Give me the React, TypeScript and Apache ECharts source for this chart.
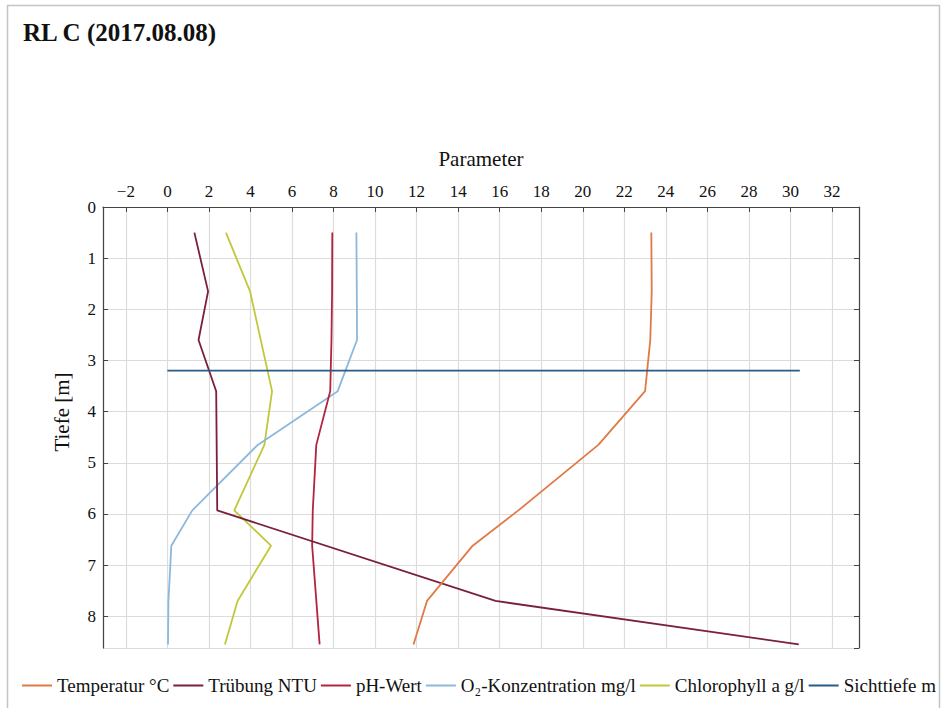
import React, { useEffect, useRef } from "react";
import * as echarts from "echarts";

const titleText = "RL C (2017.08.08)";
const seriesNames = [
  "Temperatur °C",
  "Trübung NTU",
  "pH-Wert",
  "O₂-Konzentration mg/l",
  "Chlorophyll a g/l",
  "Sichttiefe m",
];
const seriesColors = ["#e07a45", "#7a1f3d", "#b3243f", "#8db8dc", "#c2c73a", "#2a5b84"];

const depths = [0.5, 1.65, 2.6, 3.6, 4.65, 5.93, 6.62, 7.7, 8.55];
const temperatur = [23.3, 23.32, 23.25, 23.0, 20.75, 16.9, 14.7, 12.5, 11.85];
const truebung = [1.3, 1.96, 1.5, 2.35, null, 2.4, null, 15.8, 30.4];
const phWert = [7.94, 7.93, 7.9, 7.84, 7.17, 7.0, 6.97, null, 7.33];
const sauerstoff = [9.1, 9.12, 9.13, 8.2, 4.35, 1.2, 0.19, 0.05, 0.03];
const chlorophyll = [2.82, 3.98, null, 5.04, 4.67, 3.22, 4.99, 3.38, 2.77];
const sichttiefe = 3.2;
const sichtRange = [0, 30.45];

const xMin = -3.1;
const xMax = 33.3;
const yMax = 8.62;

function toPairs(vals: (number | null)[]) {
  const out: number[][] = [];
  depths.forEach((d, i) => {
    const v = vals[i];
    if (v !== null && v !== undefined) out.push([v, d]);
  });
  return out;
}

const FONT = "Liberation Serif";

export default function App() {
  const ref = useRef<HTMLDivElement>(null);
  useEffect(() => {
    if (!ref.current) return;
    const chart = echarts.init(ref.current, undefined, { renderer: "svg" });
    const allData = [
      toPairs(temperatur),
      toPairs(truebung),
      toPairs(phWert),
      toPairs(sauerstoff),
      toPairs(chlorophyll),
      sichtRange.map((x) => [x, sichttiefe]),
    ];
    chart.setOption({
      animation: false,
      backgroundColor: "#ffffff",
      title: {
        text: titleText,
        left: 18,
        top: 15,
        textStyle: { fontFamily: FONT, fontWeight: "bold", fontSize: 25, color: "#111" },
      },
      graphic: [
        {
          type: "rect",
          shape: { x: 7.5, y: 5.5, width: 932, height: 720 },
          style: { fill: "none", stroke: "#c4c4c4", lineWidth: 1.5 },
          silent: true,
        },
        {
          type: "text",
          x: 62,
          y: 412,
          rotation: Math.PI / 2,
          style: {
            text: "Tiefe [m]",
            fontFamily: FONT,
            fontSize: 21,
            fill: "#111",
            align: "center",
            verticalAlign: "middle",
          },
        },
      ],
      legend: {
        left: 22,
        top: 676,
        width: 930,
        padding: 0,
        itemWidth: 30,
        itemHeight: 2,
        itemGap: 4,
        icon: "rect",
        textStyle: { fontFamily: FONT, fontSize: 19, color: "#111", padding: [0, 0, 0, 0] },
        data: seriesNames,
      },
      grid: { left: 103, right: 85, top: 207, bottom: 60 },
      xAxis: {
        type: "value",
        position: "top",
        min: xMin,
        max: xMax,
        splitNumber: 18,
        name: "Parameter",
        nameLocation: "middle",
        nameGap: 38,
        nameTextStyle: { fontFamily: FONT, fontSize: 21, color: "#111" },
        axisLine: { show: true, onZero: false, lineStyle: { color: "#444", width: 1.2 } },
        axisTick: { show: true, inside: true, length: 5, lineStyle: { color: "#444" } },
        axisLabel: {
          fontFamily: FONT,
          fontSize: 17,
          color: "#111",
          margin: 7,
          showMinLabel: false,
          showMaxLabel: false,
          formatter: (v: number) => (v < 0 ? "\u2212" + Math.abs(v) : String(v)),
        },
        splitLine: { show: true, lineStyle: { color: "#dcdcdc", width: 1.2 } },
      },
      yAxis: [
        {
          type: "value",
          inverse: true,
          min: 0,
          max: yMax,
          interval: 1,
          axisLine: { show: true, onZero: false, lineStyle: { color: "#444", width: 1.2 } },
          axisTick: { show: true, inside: true, length: 5, lineStyle: { color: "#444" } },
          axisLabel: {
            fontFamily: FONT,
            fontSize: 17,
            color: "#111",
            margin: 7,
            showMaxLabel: false,
          },
          splitLine: { show: true, lineStyle: { color: "#dcdcdc", width: 1.2 } },
        },
        {
          type: "value",
          inverse: true,
          position: "right",
          min: 0,
          max: yMax,
          interval: 1,
          axisLine: { show: true, onZero: false, lineStyle: { color: "#444", width: 1.2 } },
          axisTick: { show: true, inside: true, length: 5, lineStyle: { color: "#444" } },
          axisLabel: { show: false },
          splitLine: { show: false },
        },
      ],
      series: seriesNames.map((name, i) => ({
        name,
        type: "line",
        xAxisIndex: 0,
        yAxisIndex: 0,
        data: allData[i],
        showSymbol: false,
        symbol: "none",
        lineStyle: { color: seriesColors[i], width: 1.8 },
        itemStyle: { color: seriesColors[i] },
        z: i === 5 ? 10 : 5 - i,
      })),
    });
    return () => chart.dispose();
  }, []);
  return (
    <div
      ref={ref}
      style={{ position: "fixed", left: 0, top: 0, width: 944, height: 708 }}
    />
  );
}
